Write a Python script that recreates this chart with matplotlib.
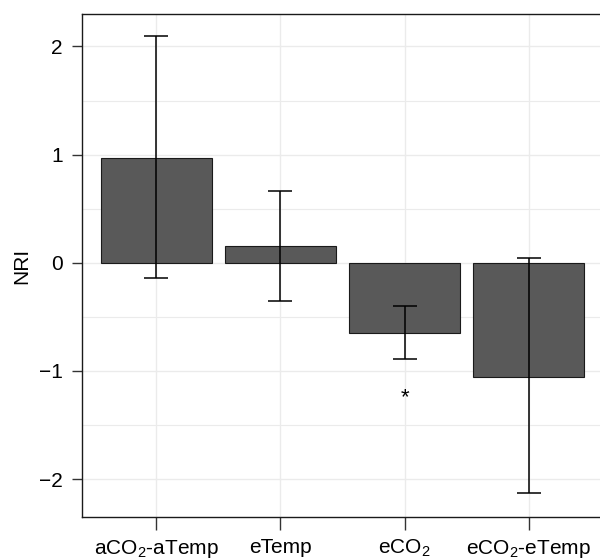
import matplotlib
matplotlib.use("Agg")
import matplotlib.pyplot as plt
from matplotlib.ticker import MultipleLocator

plt.rcParams['font.family'] = ['Liberation Sans', 'DejaVu Sans']
plt.rcParams['mathtext.fontset'] = 'custom'
plt.rcParams['mathtext.rm'] = 'Liberation Sans'
plt.rcParams['mathtext.it'] = 'Liberation Sans:italic'

categories = ["aCO$_2$-aTemp", "eTemp", "eCO$_2$", "eCO$_2$-eTemp"]
nri = [0.97, 0.153, -0.646, -1.052]
err_upper = [2.094, 0.667, -0.403, 0.04]
err_lower = [-0.138, -0.357, -0.889, -2.131]
signif = ["", "", "*", ""]
star_y = [None, None, -1.25, None]

fig = plt.figure(figsize=(6, 5.6), dpi=100)
ax = fig.add_axes([82/600, 1-517/560, 521/600, (517-14)/560])

x = list(range(len(categories)))
ax.bar(x, nri, width=0.9, color="#595959", edgecolor="#1a1a1a", linewidth=0.8, zorder=2)
yerr = [[v - lo for v, lo in zip(nri, err_lower)], [hi - v for v, hi in zip(nri, err_upper)]]
ax.errorbar(x, nri, yerr=yerr, fmt="none", ecolor="black", elinewidth=1.1, capsize=8.6, capthick=1.1, zorder=3)
for xi, s, sy in zip(x, signif, star_y):
    if s:
        ax.text(xi, sy, s, ha="center", va="center", fontsize=16, color="black")

ax.set_xlim(-0.6, 3.6)
ax.set_ylim(-2.35, 2.30)
ax.set_xticks(x)
ax.set_xticklabels(categories, fontsize=15)
ax.yaxis.set_minor_locator(MultipleLocator(0.5))
ax.set_yticks([-2, -1, 0, 1, 2])
ax.set_yticklabels(["\u22122", "\u22121", "0", "1", "2"], fontsize=15)
ax.grid(True, which="major", color="#ebebeb", linewidth=1.0, zorder=0)
ax.grid(True, which="minor", axis="y", color="#ebebeb", linewidth=0.8, zorder=0)
ax.set_axisbelow(True)
ax.tick_params(axis="y", which="major", length=7, width=1, color="#333333", labelcolor="black", pad=7)
ax.tick_params(axis="x", which="major", length=9, width=1, color="#333333", labelcolor="black", pad=6)
ax.tick_params(axis="y", which="minor", length=0)
for sp in ["left", "bottom", "top"]:
    ax.spines[sp].set_color("#1a1a1a")
    ax.spines[sp].set_linewidth(1.0)
ax.spines["right"].set_visible(False)
ax.set_ylabel("NRI", fontsize=15, labelpad=5)

fig.savefig("out.png", dpi=100)
